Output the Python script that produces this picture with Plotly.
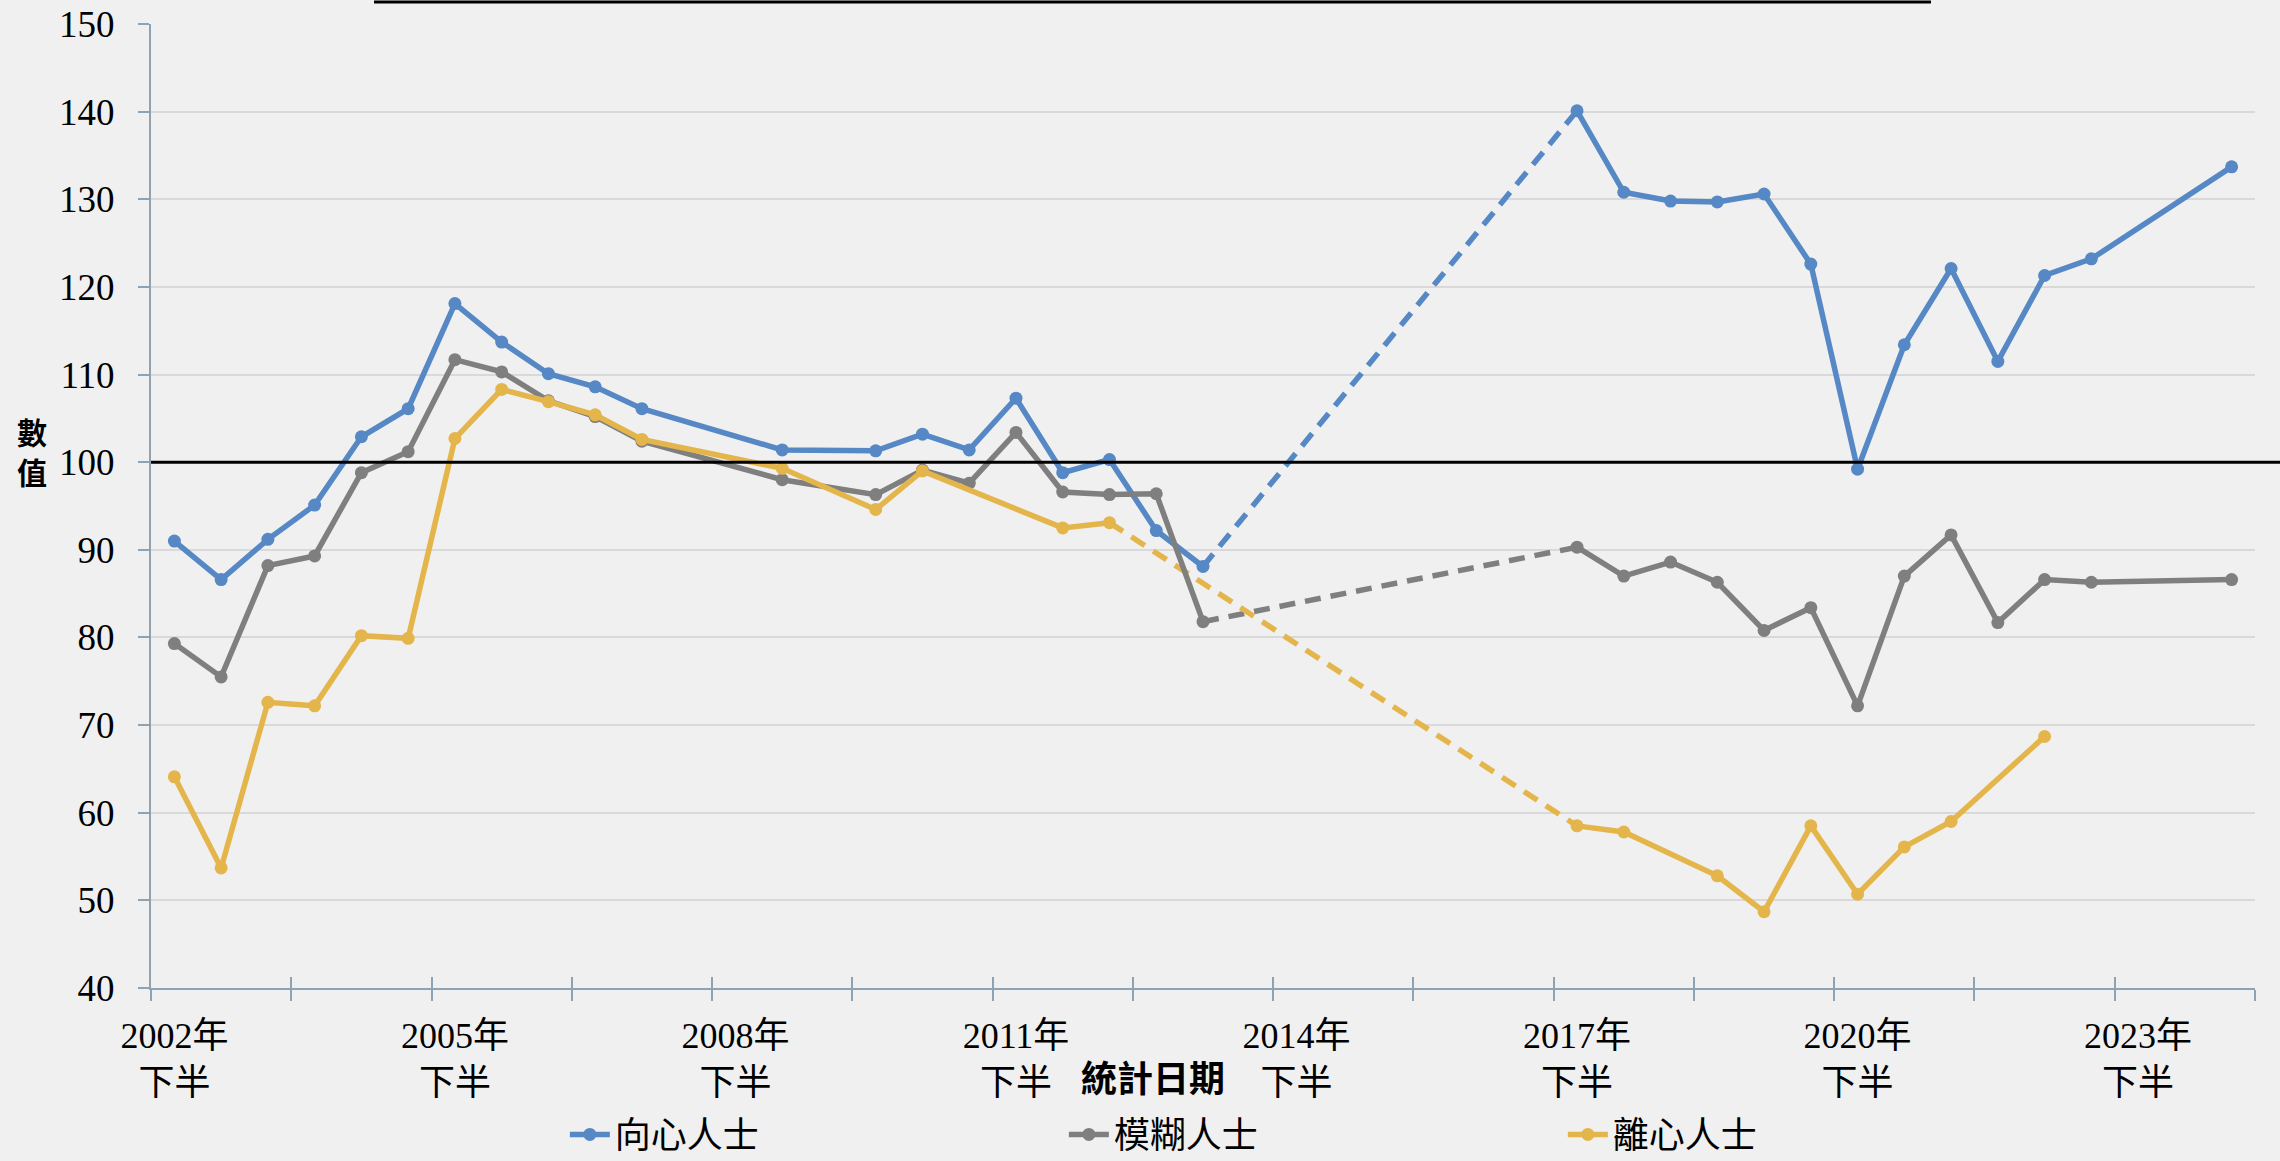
import plotly.graph_objects as go

# ---------------- data ----------------
PERIODS = []
for yr in range(2002, 2025):
    for half in ("上半", "下半"):
        if yr == 2002 and half == "上半":
            continue
        PERIODS.append(f"{yr}年{half}")

TICK_PERIODS = ["2002年下半", "2005年下半", "2008年下半", "2011年下半",
                "2014年下半", "2017年下半", "2020年下半", "2023年下半"]
TICK_LABELS = ["2002年<br>下半", "2005年<br>下半", "2008年<br>下半", "2011年<br>下半",
               "2014年<br>下半", "2017年<br>下半", "2020年<br>下半", "2023年<br>下半"]

SERIES_NAMES = ["向心人士", "模糊人士", "離心人士"]

centripetal = [91.0, 86.6, 91.2, 95.1, 102.9, 106.1, 118.1, 113.7, 110.1, 108.6, 106.1,
               None, None, 101.4, None, 101.3, 103.2, 101.4, 107.3, 98.8, 100.3, 92.2, 88.1,
               None, None, None, None, None, None, None,
               140.1, 130.8, 129.8, 129.7, 130.6, 122.6, 99.2, 113.4, 122.1, 111.5, 121.3, 123.2,
               None, None, 133.7]

ambiguous = [79.3, 75.5, 88.2, 89.3, 98.8, 101.2, 111.7, 110.3, 107.0, 105.2, 102.4,
             None, None, 98.0, None, 96.3, 99.1, 97.6, 103.4, 96.6, 96.3, 96.4, 81.8,
             None, None, None, None, None, None, None,
             90.3, 87.0, 88.6, 86.3, 80.8, 83.4, 72.2, 87.0, 91.7, 81.7, 86.6, 86.3,
             None, None, 86.6]

centrifugal = [64.1, 53.7, 72.6, 72.2, 80.2, 79.9, 102.7, 108.3, 106.9, 105.4, 102.6,
               None, None, 99.3, None, 94.6, 99.0, None, None, 92.5, 93.1, None, None,
               None, None, None, None, None, None, None,
               58.5, 57.8, None, 52.8, 48.7, 58.5, 50.7, 56.1, 59.0, None, 68.7,
               None, None, None, None]

Y_TITLE_CHARS = ["數", "值"]

COLORS = ["#5588C4", "#7F7F7F", "#E4B54B"]
REFERENCE_LEVEL = 100

# ---------------- figure ----------------
AXIS_COLOR = "#8DA3B3"
NUM_FONT = "Liberation Serif, Times New Roman, Noto Sans CJK TC"
CJK_FONT = "Noto Sans CJK TC, Liberation Serif"

fig = go.Figure()


def split_series(values, big_gap=4):
    pts = [(i, v) for i, v in enumerate(values) if v is not None]
    sx, sy, dashed = [], [], []
    for k, (i, v) in enumerate(pts):
        if k > 0 and i - pts[k - 1][0] > big_gap:
            sx.append(None)
            sy.append(None)
            dashed.append((pts[k - 1], (i, v)))
        sx.append(i)
        sy.append(v)
    return sx, sy, dashed


all_series = [centripetal, ambiguous, centrifugal]
# dashed connectors first (underneath)
for name, vals, col in zip(SERIES_NAMES, all_series, COLORS):
    _, _, dashed = split_series(vals)
    for (a, b) in dashed:
        fig.add_trace(go.Scatter(
            x=[a[0], b[0]], y=[a[1], b[1]], mode="lines",
            line=dict(color=col, width=5.5, dash="16px,10px"),
            showlegend=False, hoverinfo="skip"))

for name, vals, col in zip(SERIES_NAMES, all_series, COLORS):
    sx, sy, _ = split_series(vals)
    fig.add_trace(go.Scatter(
        x=sx, y=sy, name=name, mode="lines+markers",
        line=dict(color=col, width=5.5), marker=dict(color=col, size=13),
        connectgaps=False))

# overlay axis carrying the inner half of the cross tick marks
fig.add_trace(go.Scatter(x=[], y=[], xaxis="x2", showlegend=False, hoverinfo="skip"))

boundary_ticks = [k - 0.5 for k in range(0, len(PERIODS) + 1, 3)]
tick_idx = [PERIODS.index(p) for p in TICK_PERIODS]

fig.update_layout(
    width=2280, height=1161, autosize=False,
    paper_bgcolor="#F0F0F0", plot_bgcolor="#F0F0F0",
    margin=dict(l=151, r=25, t=24, b=173, autoexpand=False),
    font=dict(family=NUM_FONT, size=36, color="black"),
    xaxis=dict(
        range=[-0.5, len(PERIODS) - 0.5], showgrid=False, zeroline=False,
        showline=True, linecolor=AXIS_COLOR, linewidth=2,
        tickmode="array", tickvals=tick_idx, ticktext=TICK_LABELS, ticks="",
        ticklabelstandoff=15,
        tickfont=dict(family=NUM_FONT, size=36, color="black"),
        minor=dict(tickmode="array", tickvals=boundary_ticks, ticks="outside",
                   ticklen=11, tickwidth=2, tickcolor=AXIS_COLOR, showgrid=False),
    ),
    xaxis2=dict(
        overlaying="x", anchor="y", range=[-0.5, len(PERIODS) - 0.5],
        showgrid=False, zeroline=False, showline=False,
        tickmode="array", tickvals=boundary_ticks, ticks="inside",
        ticklen=11, tickwidth=2, tickcolor=AXIS_COLOR, showticklabels=False,
    ),
    yaxis=dict(
        range=[40, 150], dtick=10, tick0=40, showgrid=True, gridcolor="#D9D9D9",
        gridwidth=2, zeroline=False, showline=True, linecolor=AXIS_COLOR, linewidth=2,
        ticks="outside", ticklen=11, tickwidth=2, tickcolor=AXIS_COLOR,
        ticklabelstandoff=16,
        tickfont=dict(family=NUM_FONT, size=37, color="black"),
    ),
    legend=dict(
        orientation="h", x=0.1967, xanchor="left", y=-0.152, yanchor="middle",
        entrywidth=444, entrywidthmode="pixels",
        font=dict(family=CJK_FONT, size=36, color="black"),
        bgcolor="rgba(0,0,0,0)", itemwidth=40,
    ),
    showlegend=True,
)

fig.add_hline(y=REFERENCE_LEVEL, line=dict(color="black", width=3))
fig.layout.shapes[-1].update(x0=0, x1=1.012, layer="above")

# top line
fig.add_shape(type="line", xref="paper", yref="paper", x0=0.106, x1=0.846,
              y0=1.0228, y1=1.0228, line=dict(color="black", width=3))

fig.add_annotation(text="<b>統計日期</b>", xref="paper", yref="paper", x=0.476, y=-0.0913,
                   showarrow=False, font=dict(family=CJK_FONT, size=36, color="black"),
                   xanchor="center", yanchor="middle")
for ch, ypos in zip(Y_TITLE_CHARS, [0.5775, 0.5365]):
    fig.add_annotation(text=f"<b>{ch}</b>", xref="paper", yref="paper", x=-0.0566, y=ypos,
                       showarrow=False, font=dict(family=CJK_FONT, size=30, color="black"),
                       xanchor="center", yanchor="middle", borderpad=0)

fig.write_html("out.html", config={"displayModeBar": False},
               post_script="document.body.style.margin='0';document.body.style.overflow='hidden';")
